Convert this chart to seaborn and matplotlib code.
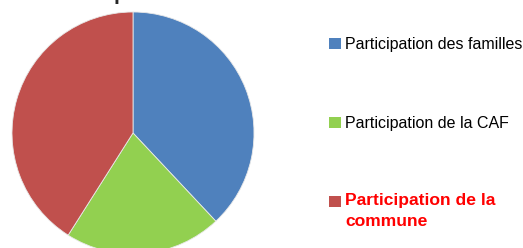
import matplotlib
matplotlib.use("Agg")
import matplotlib.pyplot as plt
from matplotlib.patches import Rectangle
import seaborn as sns

# shares (percent)
labels = ["Participation des familles", "Participation de la CAF", "Participation de la\ncommune"]
shares = [38, 21, 41]
colors = ["#4F81BD", "#92D050", "#C0504D"]
label_colors = ["#000000", "#000000", "#FF0000"]
label_weights = ["normal", "normal", "bold"]
label_sizes = [11.5, 11.5, 12.6]

W, H = 523, 248

sns.set_theme(style="white")
plt.rcParams["font.family"] = ["Liberation Sans", "DejaVu Sans"]

fig = plt.figure(figsize=(W / 100, H / 100), dpi=100)
ax = fig.add_axes([12 / W, -6 / H, 242 / W, 242 / H])
wedges, _ = ax.pie(shares, colors=sns.color_palette(colors), startangle=90,
                   counterclock=False, radius=1,
                   wedgeprops={"edgecolor": "#e8e8e8", "linewidth": 0.6})
ax.set_xlim(-1, 1)
ax.set_ylim(-1, 1)
ax.set_aspect("equal")
ax.axis("off")

# title is cut off by the top edge, only the descender shows
fig.text(114 / W, 1.0, "p", fontsize=15, fontweight="bold", ha="left", va="baseline")

# legend drawn by hand so the square sits on the first line of each label
box_base = [49, 128, 207]
text_top = [37, 116, 193]
for lab, wedge, c, w, s, yb, yt in zip(labels, wedges, label_colors, label_weights,
                                       label_sizes, box_base, text_top):
    fig.add_artist(Rectangle((329 / W, 1 - yb / H), 12 / W, 11 / H,
                             transform=fig.transFigure, facecolor=wedge.get_facecolor(),
                             edgecolor="none"))
    fig.text(345 / W, 1 - yt / H, lab, fontsize=s, color=c, fontweight=w,
             ha="left", va="top", linespacing=1.5)

fig.savefig("out.png", dpi=100)
